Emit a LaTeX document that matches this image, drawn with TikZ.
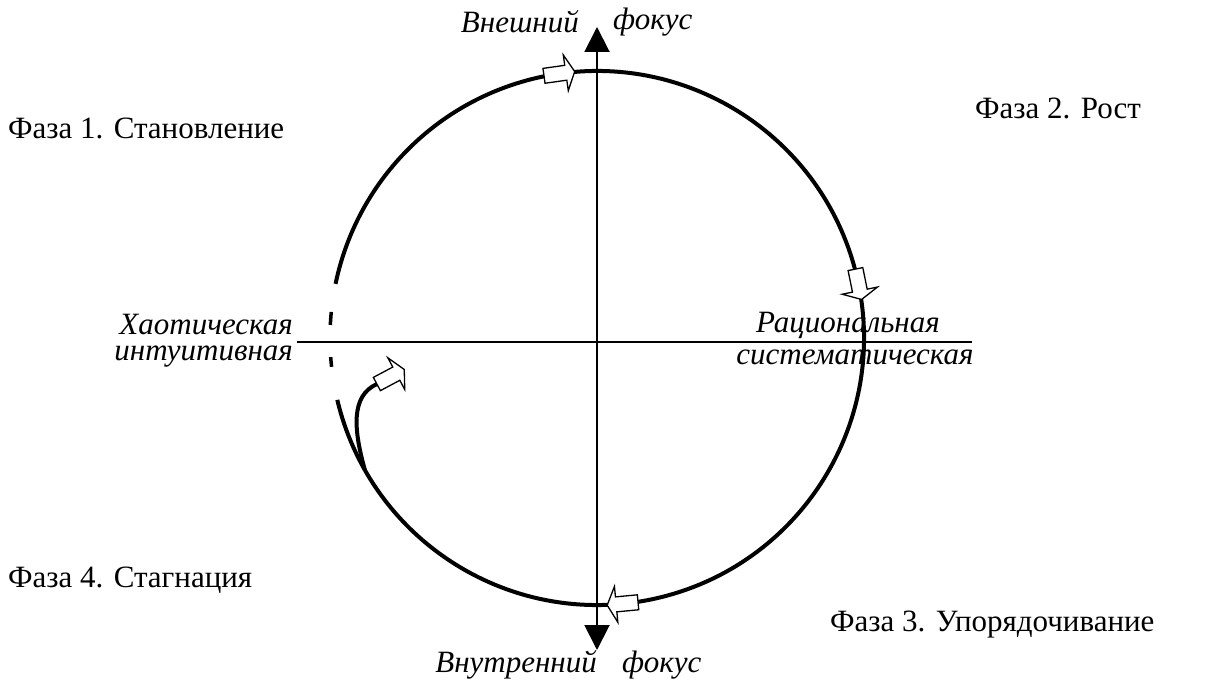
\documentclass[tikz,border=0pt]{standalone}
\usepackage{fontspec}
\setmainfont{Liberation Serif}
\newfontfamily\timesru{Liberation Serif}
\usetikzlibrary{arrows.meta,calc}
\tikzset{
  lbl/.style={inner sep=0pt, font=\timesru\fontsize{31}{36}\selectfont},
  ilbl/.style={inner sep=0pt, font=\timesru\fontsize{31}{36}\selectfont\itshape},
  ring/.style={line width=4pt},
  axis/.style={line width=2pt},
  blockarrow/.pic={\draw[fill=white, line width=1.3pt, miter limit=20]
    (-16,-7.5) -- (6,-7.5) -- (6,-18) -- (15,0) -- (6,18) -- (6,7.5) -- (-16,7.5) -- cycle;}
}
\begin{document}
\begin{tikzpicture}[x=1pt,y=1pt]
\useasboundingbox (0,0) rectangle (1205,686);
\coordinate (c) at (597,348);
% axes
\coordinate (top) at (597,659);
\coordinate (bot) at (597,36);
\coordinate (hl) at (297,344);
\coordinate (hr) at (972,344);
\draw[axis, {Triangle[length=25pt,width=25pt]}-{Triangle[length=25pt,width=25pt]}] (bot) -- (top);
\draw[axis] (hl) -- (hr);
% cycle
\draw[ring] ($(c)+(193.4:267)$) arc[start angle=193.4, end angle=528.3, radius=267];
\draw[line width=3.5pt] ($(c)+(174.4:267)$) arc[start angle=174.4, end angle=177.2, radius=267];
\draw[line width=3.5pt] ($(c)+(184.1:267)$) arc[start angle=184.1, end angle=186.2, radius=267];
\coordinate (s) at ($(c)+(209.6:267)$);
\coordinate (e) at (377,302);
\draw[ring] (s) .. controls (354,255) and (350,290) .. (e);
\pic[rotate=28] at (391,309.5) {blockarrow};
\pic[rotate=8] at ($(c)+(98:267)$) {blockarrow};
\pic[rotate=-78.5] at ($(c)+(11.5:267)$) {blockarrow};
\pic[rotate=-174.6] at ($(c)+(-84.6:267)$) {blockarrow};
% labels
\node[ilbl, anchor=east] (ext1) at (579,664) {Внешний};
\node[ilbl, anchor=west] (ext2) at (613,664) {фокус};
\node[ilbl, anchor=east] (int1) at (597,21) {Внутренний};
\node[ilbl, anchor=west] (int2) at (622,21) {фокус};
\node[ilbl, anchor=east] (chaos1) at (293,361) {Хаотическая};
\node[ilbl, anchor=east] (chaos2) at (293,329) {интуитивная};
\node[ilbl] (rat1) at (848,361) {Рациональная};
\node[ilbl] (rat2) at (855,329) {систематическая};
\node[lbl, anchor=west] (ph1) at (8,558) {Фаза 1. Становление};
\node[lbl, anchor=west] (ph2) at (975,578) {Фаза 2. Рост};
\node[lbl, anchor=west] (ph3) at (830,61) {Фаза 3. Упорядочивание};
\node[lbl, anchor=west] (ph4) at (8,106) {Фаза 4. Стагнация};
\end{tikzpicture}
\end{document}
